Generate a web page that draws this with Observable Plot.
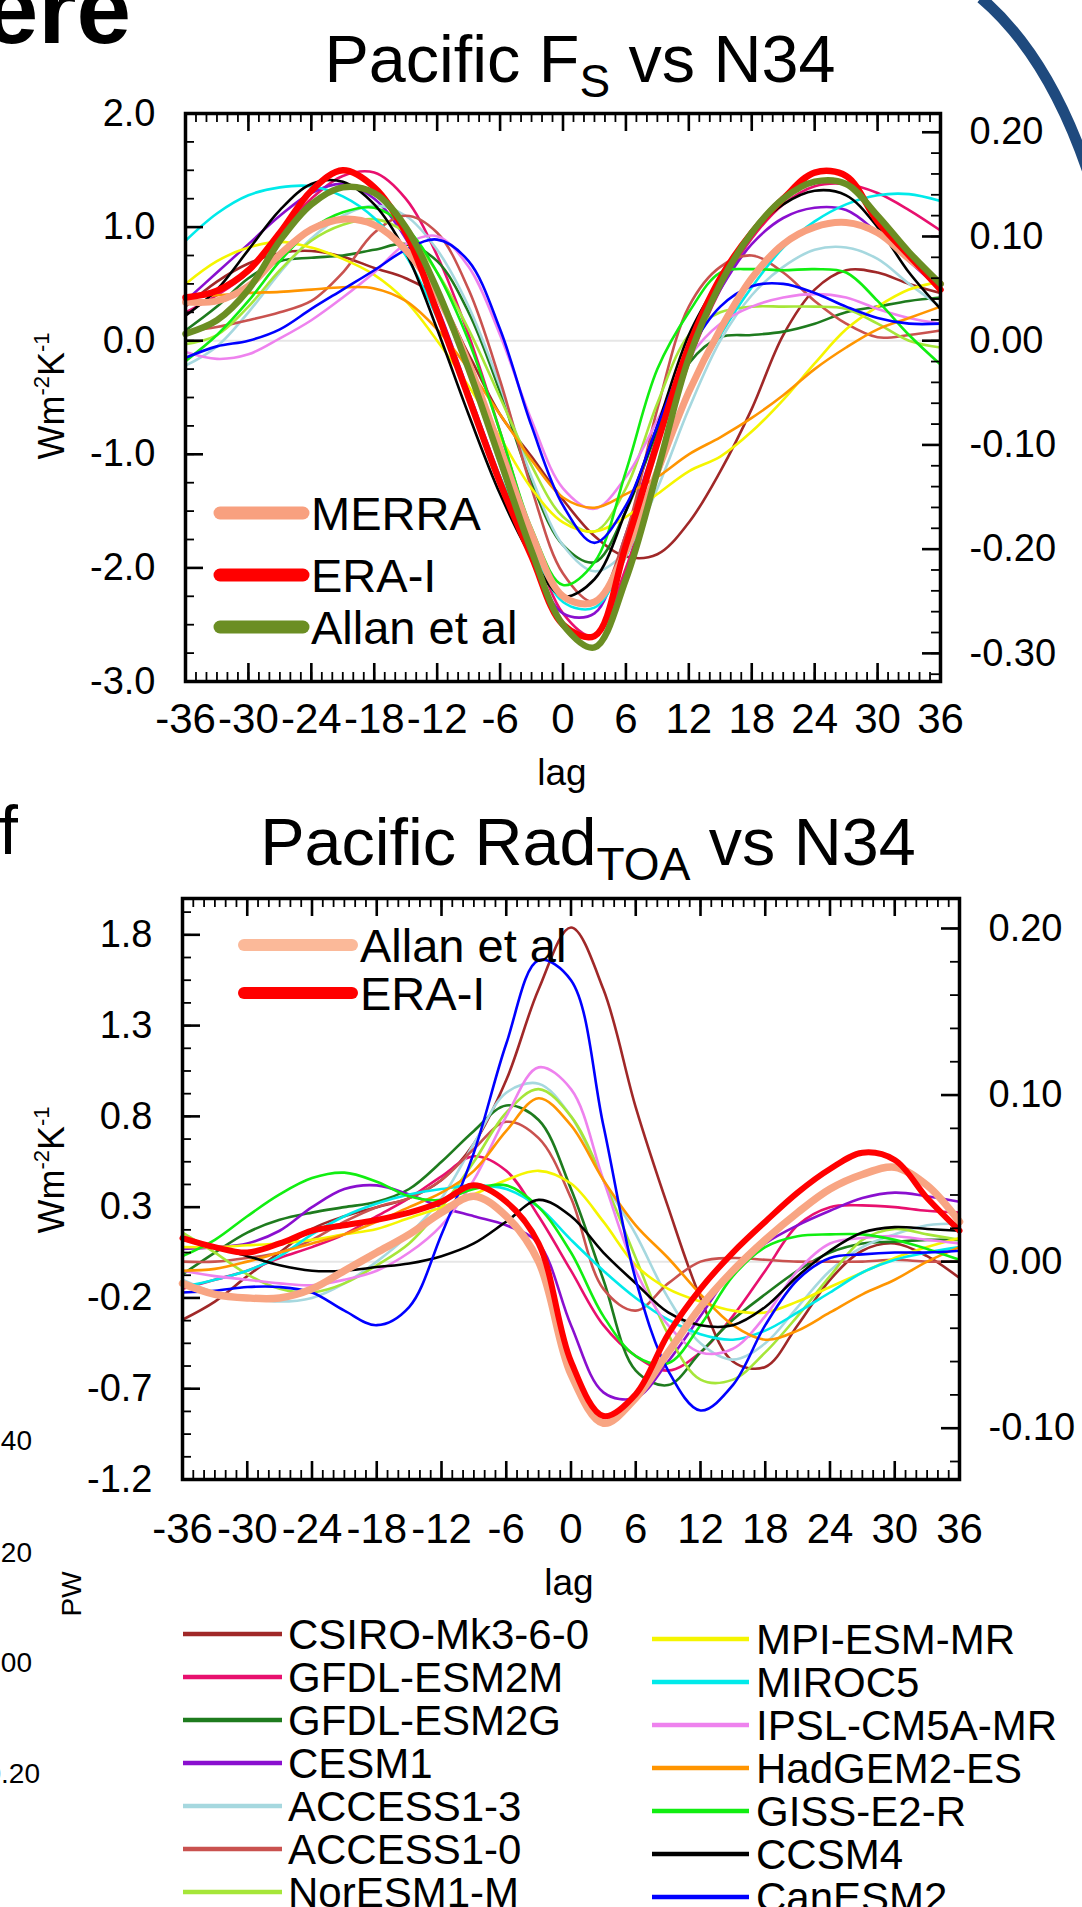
<!DOCTYPE html>
<html><head><meta charset="utf-8">
<script src="https://cdn.jsdelivr.net/npm/d3@7"></script>
<script src="https://cdn.jsdelivr.net/npm/@observablehq/plot@0.6"></script>
<style>
html,body{margin:0;padding:0;background:#fff;}
#page{position:relative;width:1082px;height:1907px;overflow:hidden;}
</style></head><body><div id="page"></div>
<script>
const FONT = '"Liberation Sans", Arial, Helvetica, sans-serif';
const lags = d3.range(-36, 37, 3);
const modelNames = ["CSIRO-Mk3-6-0","GFDL-ESM2M","GFDL-ESM2G","CESM1","ACCESS1-3","ACCESS1-0","NorESM1-M","MPI-ESM-MR","MIROC5","IPSL-CM5A-MR","HadGEM2-ES","GISS-E2-R","CCSM4","CanESM2"];
const modelColors = ["#a02828","#e8106e","#1e7b1e","#8a0fcf","#a6d8df","#c9524f","#a6e639","#f5f500","#00eaea","#ee82ee","#ff9500","#11ee11","#000000","#0000ff"];
const xTickValues = d3.range(-36, 37, 6);
const K = 0.109; // right-axis (PW) per left-axis unit

// ---- Pacific F_S vs N34 (Wm-2K-1), lags -36..36 step 3 ----
const fsCSIRO = [0.30,0.52,0.68,0.77,0.79,0.74,0.64,0.55,0.38,-0.12,-0.65,-1.02,-1.40,-1.72,-1.90,-1.88,-1.60,-1.15,-0.60,0.05,0.45,0.62,0.60,0.50,0.42];
const fsESM2M = [0.25,0.40,0.60,0.95,1.25,1.45,1.48,1.25,0.75,0.05,-0.80,-1.70,-2.40,-2.60,-2.00,-1.10,-0.20,0.45,0.90,1.20,1.36,1.38,1.30,1.15,0.97];
const fsESM2G = [0.09,0.30,0.55,0.70,0.73,0.75,0.80,0.85,0.70,0.25,-0.45,-1.25,-1.80,-1.95,-1.50,-0.80,-0.20,0.03,0.05,0.08,0.15,0.25,0.30,0.35,0.38];
const fsCESM1 = [0.35,0.60,0.85,1.10,1.30,1.38,1.25,0.90,0.30,-0.45,-1.20,-1.90,-2.40,-2.40,-1.70,-0.85,-0.10,0.45,0.85,1.08,1.17,1.15,0.95,0.70,0.45];
const fsACC13 = [-0.22,-0.05,0.25,0.60,0.90,1.10,1.19,1.10,0.80,0.30,-0.40,-1.20,-1.80,-2.03,-1.85,-1.30,-0.60,0.00,0.40,0.65,0.80,0.82,0.72,0.50,0.30];
const fsACC10 = [0.08,0.12,0.18,0.25,0.35,0.60,0.95,1.10,0.95,0.45,-0.35,-1.30,-2.05,-2.30,-1.70,-0.60,0.30,0.65,0.75,0.60,0.35,0.15,0.03,0.05,0.09];
const fsNor = [-0.03,0.05,0.30,0.62,0.88,1.02,1.07,0.95,0.60,0.10,-0.50,-1.10,-1.55,-1.68,-1.30,-0.55,0.05,0.25,0.30,0.30,0.30,0.28,0.15,0.00,-0.06];
const fsMPI = [0.50,0.70,0.82,0.87,0.82,0.72,0.58,0.35,0.00,-0.40,-0.85,-1.30,-1.60,-1.68,-1.55,-1.35,-1.15,-1.02,-0.80,-0.52,-0.20,0.10,0.30,0.45,0.52];
const fsMIROC = [0.88,1.12,1.28,1.35,1.36,1.27,1.08,0.75,0.20,-0.50,-1.20,-1.80,-2.30,-2.35,-1.90,-1.20,-0.45,0.05,0.47,0.82,1.05,1.20,1.28,1.29,1.23];
const fsIPSL = [-0.10,-0.16,-0.12,0.02,0.18,0.38,0.60,0.85,0.92,0.65,0.05,-0.70,-1.30,-1.48,-1.20,-0.70,-0.15,0.15,0.30,0.38,0.41,0.38,0.28,0.20,0.15];
const fsHad = [0.38,0.40,0.42,0.43,0.45,0.47,0.46,0.35,0.10,-0.25,-0.65,-1.05,-1.38,-1.47,-1.35,-1.20,-1.00,-0.85,-0.68,-0.48,-0.25,-0.06,0.10,0.20,0.30];
const fsGISS = [-0.18,0.05,0.35,0.70,0.98,1.13,1.17,1.00,0.60,0.00,-0.80,-1.65,-2.15,-1.95,-1.15,-0.25,0.25,0.60,0.63,0.62,0.63,0.60,0.35,0.05,-0.21];
const fsCCSM = [0.22,0.45,0.80,1.15,1.38,1.40,1.20,0.78,0.10,-0.65,-1.35,-1.90,-2.25,-2.10,-1.50,-0.75,0.05,0.55,0.95,1.20,1.32,1.28,1.00,0.60,0.28];
const fsCan = [-0.15,-0.05,0.00,0.10,0.28,0.45,0.62,0.80,0.89,0.70,0.10,-0.75,-1.45,-1.78,-1.45,-0.75,-0.10,0.30,0.48,0.50,0.42,0.30,0.20,0.15,0.15];
const fsMERRA = [0.34,0.35,0.48,0.76,0.98,1.07,1.02,0.80,0.40,-0.20,-0.95,-1.70,-2.25,-2.30,-1.85,-1.15,-0.45,0.10,0.55,0.85,1.00,1.04,0.95,0.72,0.50];
const fsERA = [0.38,0.44,0.62,0.95,1.32,1.50,1.35,0.95,0.25,-0.50,-1.25,-1.90,-2.50,-2.60,-1.80,-0.90,-0.05,0.55,0.95,1.25,1.48,1.45,1.05,0.75,0.45];
const fsAllan = [0.06,0.18,0.45,0.88,1.20,1.35,1.30,1.00,0.45,-0.25,-1.05,-1.85,-2.50,-2.70,-2.10,-1.15,-0.15,0.50,0.95,1.25,1.40,1.38,1.10,0.78,0.50];

// ---- Pacific Rad_TOA vs N34 ----
const radCSIRO = [-0.32,-0.22,-0.08,0.05,0.18,0.25,0.30,0.35,0.45,0.65,1.00,1.50,1.84,1.50,0.85,0.30,-0.20,-0.55,-0.58,-0.35,-0.10,0.06,0.10,0.03,-0.09];
const radESM2M = [-0.15,-0.10,-0.05,0.02,0.08,0.15,0.25,0.35,0.47,0.58,0.50,0.25,-0.05,-0.35,-0.52,-0.60,-0.50,-0.30,-0.05,0.20,0.30,0.31,0.30,0.28,0.27];
const radESM2G = [-0.07,0.05,0.16,0.23,0.27,0.30,0.33,0.40,0.55,0.72,0.86,0.78,0.40,-0.10,-0.60,-0.68,-0.50,-0.32,-0.18,-0.05,0.05,0.10,0.11,0.12,0.12];
const radCESM1 = [0.07,0.08,0.10,0.17,0.30,0.40,0.42,0.37,0.30,0.25,0.20,0.10,-0.35,-0.72,-0.75,-0.55,-0.30,-0.05,0.10,0.20,0.28,0.35,0.38,0.36,0.33];
const radACC13 = [-0.10,-0.17,-0.20,-0.22,-0.20,-0.12,0.00,0.15,0.35,0.65,0.93,0.98,0.80,0.45,0.15,-0.20,-0.45,-0.54,-0.45,-0.25,-0.05,0.08,0.15,0.20,0.21];
const radACC10 = [0.00,0.00,0.02,0.05,0.12,0.22,0.30,0.35,0.45,0.62,0.77,0.68,0.35,-0.15,-0.27,-0.12,0.00,0.02,0.01,0.00,0.00,0.00,0.01,0.00,0.00];
const radNor = [0.16,0.05,-0.07,-0.15,-0.17,-0.12,-0.02,0.10,0.30,0.55,0.82,0.95,0.80,0.45,0.02,-0.40,-0.65,-0.65,-0.50,-0.30,-0.08,0.12,0.18,0.15,0.12];
const radMPI = [0.08,0.08,0.09,0.10,0.12,0.15,0.18,0.24,0.30,0.37,0.45,0.50,0.43,0.22,-0.02,-0.15,-0.22,-0.27,-0.28,-0.22,-0.14,-0.06,0.02,0.08,0.13];
const radMIROC = [-0.14,-0.10,-0.05,0.03,0.15,0.25,0.32,0.37,0.40,0.42,0.40,0.30,0.12,-0.05,-0.20,-0.32,-0.40,-0.43,-0.38,-0.28,-0.17,-0.06,0.01,0.05,0.08];
const radIPSL = [-0.05,-0.08,-0.10,-0.12,-0.13,-0.10,-0.05,0.05,0.20,0.45,0.80,1.07,0.95,0.45,-0.05,-0.35,-0.50,-0.48,-0.30,-0.05,0.10,0.13,0.14,0.12,0.10];
const radHad = [-0.05,-0.04,0.00,0.05,0.10,0.15,0.22,0.30,0.38,0.50,0.72,0.90,0.75,0.45,0.20,0.02,-0.18,-0.35,-0.43,-0.38,-0.28,-0.18,-0.10,0.00,0.08];
const radGISS = [0.03,0.12,0.25,0.37,0.46,0.49,0.44,0.36,0.34,0.40,0.42,0.30,0.05,-0.30,-0.52,-0.56,-0.35,-0.08,0.08,0.14,0.15,0.15,0.12,0.07,0.01];
const radCCSM = [0.12,0.08,0.03,-0.02,-0.05,-0.05,-0.03,-0.01,0.03,0.10,0.22,0.34,0.25,0.05,-0.12,-0.28,-0.35,-0.35,-0.25,-0.08,0.06,0.16,0.19,0.18,0.17];
const radCan = [-0.17,-0.16,-0.14,-0.14,-0.17,-0.27,-0.35,-0.25,0.15,0.60,1.20,1.66,1.55,0.75,-0.10,-0.60,-0.82,-0.68,-0.35,-0.10,0.02,0.04,0.05,0.05,0.06];
const radAllan = [-0.12,-0.18,-0.20,-0.20,-0.15,-0.05,0.05,0.15,0.27,0.36,0.25,0.00,-0.62,-0.89,-0.75,-0.50,-0.25,-0.05,0.12,0.27,0.40,0.48,0.52,0.42,0.22];
const radERA = [0.13,0.08,0.05,0.10,0.17,0.20,0.23,0.27,0.33,0.42,0.33,0.10,-0.55,-0.85,-0.73,-0.40,-0.15,0.05,0.22,0.38,0.51,0.60,0.56,0.35,0.17];

const fsModels = [fsCSIRO,fsESM2M,fsESM2G,fsCESM1,fsACC13,fsACC10,fsNor,fsMPI,fsMIROC,fsIPSL,fsHad,fsGISS,fsCCSM,fsCan];
const radModels = [radCSIRO,radESM2M,radESM2G,radCESM1,radACC13,radACC10,radNor,radMPI,radMIROC,radIPSL,radHad,radGISS,radCCSM,radCan];

const topLeftTicks = [-3,-2,-1,0,1,2];
const topRightTicks = [0.2,0.1,0,-0.1,-0.2,-0.3];
const botLeftTicks = [-1.2,-0.7,-0.2,0.3,0.8,1.3,1.8];
const botRightTicks = [0.2,0.1,0,-0.1];

const page = d3.select("#page");

function makePanel(cfg) {
  const fw = cfg.right - cfg.left, fh = cfg.bottom - cfg.top;
  const marks = [Plot.ruleY([0], {stroke: "#e6e6e6", strokeWidth: 2})];
  for (const s of cfg.series) {
    marks.push(Plot.line(lags.map((l, i) => ({lag: l, v: s.values[i]})),
      {x: "lag", y: "v", stroke: s.color, strokeWidth: s.width, curve: "catmull-rom"}));
  }
  const xMin = d3.range(-36, 37, 1);
  const [y0, y1] = cfg.ydomain;
  const rMinor = d3.range(-0.4, 0.3001, 0.02).map(v => v / K).filter(d => d > y0 + 0.01 && d < y1 - 0.01);
  marks.push(
    Plot.tickX(xMin, {x: d => d, insetTop: fh - 9, strokeWidth: 1.8}),
    Plot.tickX(xTickValues, {x: d => d, insetTop: fh - 18, strokeWidth: 2.6}),
    Plot.tickX(xMin, {x: d => d, insetBottom: fh - 9, strokeWidth: 1.8}),
    Plot.tickX(xTickValues, {x: d => d, insetBottom: fh - 18, strokeWidth: 2.6}),
    Plot.tickY(cfg.leftMinor, {y: d => d, insetRight: fw - 9, strokeWidth: 1.8}),
    Plot.tickY(cfg.leftTicks, {y: d => d, insetRight: fw - 18, strokeWidth: 2.6}),
    Plot.tickY(rMinor, {y: d => d, insetLeft: fw - 9, strokeWidth: 1.8}),
    Plot.tickY(cfg.rightTicks.map(v => v / K), {y: d => d, insetLeft: fw - 18, strokeWidth: 2.6}),
    Plot.frame({stroke: "#000", strokeWidth: 3.5}),
    Plot.axisX(xTickValues, {anchor: "bottom", tickSize: 0, tickPadding: cfg.xPad, fontSize: 42, tickFormat: d => String(d), label: null}),
    Plot.axisY(cfg.leftTicks, {anchor: "left", tickSize: 0, tickPadding: 30, fontSize: 38, tickFormat: d => d.toFixed(1), label: null}),
    Plot.axisY(cfg.rightTicks.map(v => v / K), {anchor: "right", tickSize: 0, tickPadding: 29, fontSize: 38, tickFormat: d => (d * K).toFixed(2), label: null})
  );
  const chart = Plot.plot({
    width: 1082, height: cfg.height,
    marginLeft: cfg.left, marginRight: 1082 - cfg.right,
    marginTop: cfg.top - cfg.offset, marginBottom: cfg.height - (cfg.bottom - cfg.offset),
    x: {domain: [-36, 36]}, y: {domain: cfg.ydomain},
    style: {background: "transparent", fontFamily: FONT, color: "#000", overflow: "visible"},
    marks
  });
  const div = page.append("div").style("position", "absolute").style("left", "0px").style("top", cfg.offset + "px");
  div.node().appendChild(chart);
}

const topSeries = fsModels.map((v, i) => ({values: v, color: modelColors[i], width: 2.6}))
  .concat([{values: fsMERRA, color: "#f8a07f", width: 7}, {values: fsERA, color: "#ff0000", width: 6.5}, {values: fsAllan, color: "#6b8e23", width: 6.5}]);
const botSeries = radModels.map((v, i) => ({values: v, color: modelColors[i], width: 2.6}))
  .concat([{values: radAllan, color: "#f8a583", width: 7.5}, {values: radERA, color: "#ff0000", width: 6}]);

makePanel({offset: 0, height: 790, top: 113, bottom: 681, left: 185, right: 940, ydomain: [-3, 2],
  leftTicks: topLeftTicks, leftMinor: d3.range(-3, 2.0001, 0.25), rightTicks: topRightTicks, xPad: 22, series: topSeries});
makePanel({offset: 790, height: 790, top: 898, bottom: 1479, left: 182, right: 959, ydomain: [-1.2, 2.0],
  leftTicks: botLeftTicks, leftMinor: d3.range(-1.2, 2.0001, 0.125), rightTicks: botRightTicks, xPad: 34, series: botSeries});

// ---- overlay: titles, labels, legends, slide fragments ----
const ov = page.append("svg").attr("width", 1082).attr("height", 1907)
  .style("position", "absolute").style("left", "0px").style("top", "0px")
  .style("font-family", FONT).style("pointer-events", "none");

ov.append("path").attr("d", "M 981 -2 Q 1048 55 1088 172").attr("fill", "none").attr("stroke", "#1f4a7e").attr("stroke-width", 11);
ov.append("text").attr("x", 131).attr("y", 43).attr("text-anchor", "end").attr("font-weight", "bold").attr("font-size", 98).text("ere");
ov.append("text").attr("x", -1).attr("y", 854).attr("font-size", 68).text("f");

function title(x, y, a, sub, b) {
  const t = ov.append("text").attr("x", x).attr("y", y).attr("text-anchor", "middle").attr("font-size", 66.5);
  t.append("tspan").text(a);
  t.append("tspan").attr("font-size", 46).attr("dy", 15).text(sub);
  t.append("tspan").attr("dy", -15).text(b);
}
title(580, 82, "Pacific F", "S", " vs N34");
title(588, 865, "Pacific Rad", "TOA", " vs N34");

function ytitle(x, y) {
  const t = ov.append("text").attr("transform", `translate(${x},${y}) rotate(-90)`).attr("text-anchor", "middle").attr("font-size", 36);
  t.append("tspan").text("Wm");
  t.append("tspan").attr("font-size", 22).attr("dy", -15).text("-2");
  t.append("tspan").attr("dy", 15).text("K");
  t.append("tspan").attr("font-size", 22).attr("dy", -15).text("-1");
}
ytitle(64, 396);
ytitle(64, 1170);

ov.append("text").attr("x", 562).attr("y", 785).attr("text-anchor", "middle").attr("font-size", 37).text("lag");
ov.append("text").attr("x", 569).attr("y", 1595).attr("text-anchor", "middle").attr("font-size", 37).text("lag");

// in-panel legends
const topLeg = [["MERRA", "#f8a07f", 513], ["ERA-I", "#ff0000", 575], ["Allan et al", "#6b8e23", 627]];
topLeg.forEach(([name, c, y]) => {
  ov.append("line").attr("x1", 220).attr("x2", 303).attr("y1", y).attr("y2", y).attr("stroke", c).attr("stroke-width", 13).attr("stroke-linecap", "round");
  ov.append("text").attr("x", 311).attr("y", y + 17).attr("font-size", 47).text(name);
});
const botLeg = [["Allan et al", "#fbb999", 945], ["ERA-I", "#ff0000", 993]];
botLeg.forEach(([name, c, y]) => {
  ov.append("line").attr("x1", 244).attr("x2", 352).attr("y1", y).attr("y2", y).attr("stroke", c).attr("stroke-width", 12).attr("stroke-linecap", "round");
  ov.append("text").attr("x", 360).attr("y", y + 17).attr("font-size", 47).text(name);
});

// model legend
modelNames.forEach((name, i) => {
  const col = i < 7 ? 0 : 1, row = i % 7;
  const y = (col === 0 ? 1634 : 1639) + row * 43;
  const x1 = col === 0 ? 183 : 652, x2 = col === 0 ? 282 : 749, tx = col === 0 ? 288 : 756;
  ov.append("line").attr("x1", x1).attr("x2", x2).attr("y1", y).attr("y2", y).attr("stroke", modelColors[i]).attr("stroke-width", 4.5);
  ov.append("text").attr("x", tx).attr("y", y + 15).attr("font-size", 42).text(name);
});

// fragments of the neighbouring panel at the left edge
[["0.40", 32, 1450], ["0.20", 32, 1562], ["0.00", 32, 1672], ["-0.20", 40, 1783]].forEach(([t, x, y]) => {
  ov.append("text").attr("x", x).attr("y", y).attr("text-anchor", "end").attr("font-size", 28).text(t);
});
ov.append("text").attr("transform", "translate(81,1594) rotate(-90)").attr("text-anchor", "middle").attr("font-size", 28).text("PW");
</script></body></html>
